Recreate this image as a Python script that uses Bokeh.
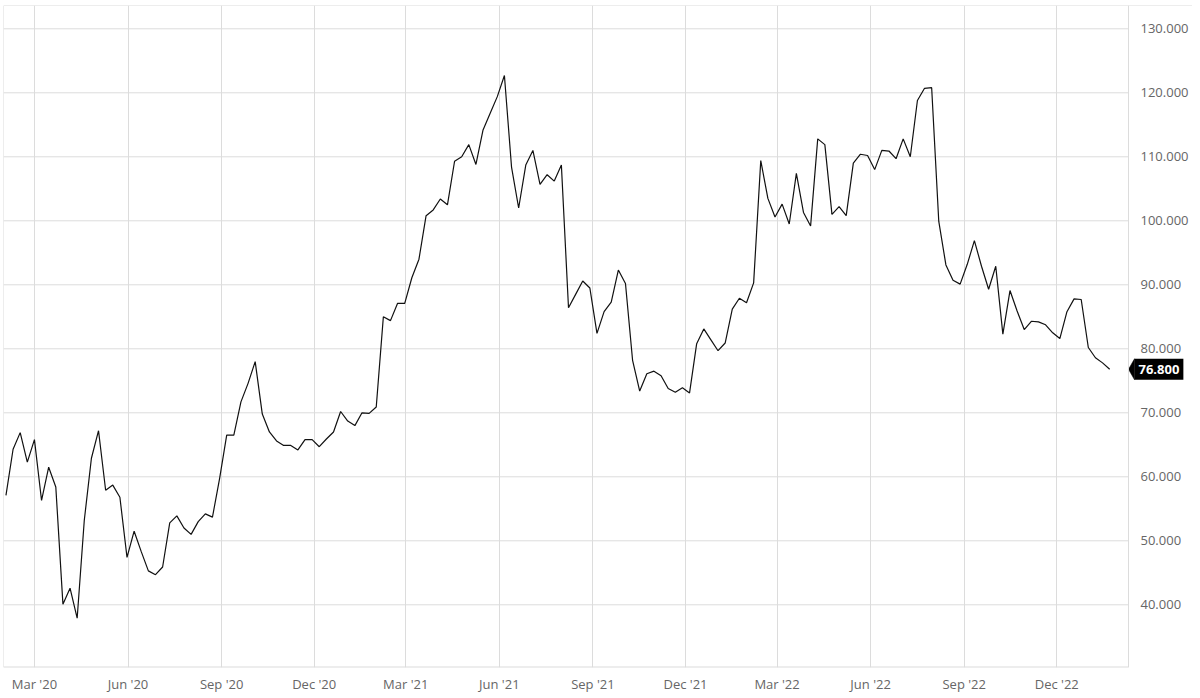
import pandas as pd
from bokeh.plotting import figure
from bokeh.models import (Range1d, FixedTicker, DatetimeTickFormatter, Label, Span,
                          ColumnDataSource)
from bokeh.core.properties import value
from bokeh.embed import file_html
from bokeh.resources import INLINE

# ---- data (weekly closes) ----
start_date = "2020-02-02"
values = [
    57.1, 64.3, 66.9, 62.3, 65.8, 56.3, 61.5, 58.4, 40.1, 42.6,
    37.9, 53.2, 62.9, 67.2, 57.9, 58.7, 56.8, 47.4, 51.5, 48.3,
    45.3, 44.7, 45.9, 52.8, 53.9, 52.0, 51.0, 53.0, 54.2, 53.7,
    59.7, 66.5, 66.5, 71.7, 74.6, 78.0, 69.8, 67.0, 65.6, 64.9,
    64.9, 64.2, 65.8, 65.8, 64.7, 65.9, 67.0, 70.2, 68.7, 68.0,
    70.0, 69.9, 70.9, 85.0, 84.4, 87.1, 87.1, 91.1, 94.0, 100.8,
    101.7, 103.4, 102.5, 109.3, 110.0, 111.9, 108.8, 114.2, 116.8, 119.4,
    122.7, 108.4, 102.0, 108.7, 111.0, 105.7, 107.2, 106.2, 108.7, 86.4,
    88.5, 90.6, 89.5, 82.4, 85.8, 87.3, 92.3, 90.2, 78.2, 73.4,
    76.1, 76.5, 75.8, 73.8, 73.2, 73.9, 73.1, 80.8, 83.1, 81.4,
    79.7, 80.9, 86.2, 87.9, 87.2, 90.3, 109.4, 103.5, 100.6, 102.6,
    99.5, 107.4, 101.3, 99.2, 112.8, 111.9, 101.0, 102.2, 100.8, 109.0,
    110.4, 110.2, 108.0, 111.0, 110.9, 109.7, 112.8, 110.0, 118.8, 120.7,
    120.8, 99.9, 93.1, 90.7, 90.1, 93.2, 96.9, 92.9, 89.3, 92.9,
    82.3, 89.1, 85.9, 83.0, 84.3, 84.2, 83.75, 82.5, 81.6, 85.8,
    87.8, 87.7, 80.2, 78.6, 77.8, 76.8,
]
x_tick_dates = ["2020-03-01", "2020-06-01", "2020-09-01", "2020-12-01",
                "2021-03-01", "2021-06-01", "2021-09-01", "2021-12-01",
                "2022-03-01", "2022-06-01", "2022-09-01", "2022-12-01"]
y_ticks = [40, 50, 60, 70, 80, 90, 100, 110, 120, 130]
y_tick_labels = [f"{t:.3f}" for t in y_ticks]

dates = pd.date_range(start_date, periods=len(values), freq="7D")
src = ColumnDataSource(dict(date=dates, value=values))

# ---- geometry ----
W, H = 1192, 696
LEFT, TOP, BOTTOM = 3, 5, 667          # frame edges in page px
DATA_RIGHT = 1128                      # right edge of the chart area (px)
frame_w = W - LEFT
frame_h = BOTTOM - TOP

x_start = pd.Timestamp("2020-01-30 14:00")
x_end = pd.Timestamp("2023-02-09 12:00")   # value at DATA_RIGHT
y_lo, y_hi = 30.2, 133.64

start_ms = x_start.value / 1e6
end_ms = x_end.value / 1e6
px_x = (end_ms - start_ms) / (DATA_RIGHT - LEFT)
px_y = (y_hi - y_lo) / frame_h
range_end = start_ms + frame_w * px_x

p = figure(width=W, height=H, x_axis_type="datetime", y_axis_location=None,
           output_backend="svg", toolbar_location=None,
           x_range=Range1d(start_ms, range_end), y_range=Range1d(y_lo, y_hi),
           min_border_left=LEFT, min_border_top=TOP, min_border_right=0,
           min_border_bottom=H - BOTTOM)
p.outline_line_color = None
p.background_fill_color = "white"
p.border_fill_color = "white"

GRID = "#dcdcdc"

# vertical grid at month ticks
tick_ms = [pd.Timestamp(d).value / 1e6 for d in x_tick_dates]
p.xaxis.ticker = FixedTicker(ticks=tick_ms)
p.xgrid.ticker = FixedTicker(ticks=tick_ms)
p.xgrid.grid_line_color = GRID
p.ygrid.grid_line_color = None
fmt = "%b '%y"
p.xaxis.formatter = DatetimeTickFormatter(days=fmt, months=fmt, years=fmt, hours=fmt,
                                          minutes=fmt, seconds=fmt)
ax = p.xaxis[0]
ax.axis_line_color = None
ax.major_tick_line_color = None
ax.minor_tick_line_color = None
ax.major_tick_in = 0
ax.major_tick_out = 0
ax.major_label_text_font = "Open Sans"
ax.major_label_text_font_size = "13px"
ax.major_label_text_color = "#666666"
ax.major_label_standoff = 7

# horizontal grid stops at the right edge of the chart area
p.segment(x0=[start_ms] * len(y_ticks), x1=[end_ms] * len(y_ticks),
          y0=y_ticks, y1=y_ticks, line_color=GRID, line_width=1)

# borders
p.add_layout(Span(location=y_hi, dimension="width", line_color=GRID, line_width=1))
p.add_layout(Span(location=start_ms, dimension="height", line_color=GRID, line_width=1))
p.add_layout(Span(location=end_ms, dimension="height", line_color=GRID, line_width=1))
p.segment(x0=[start_ms], x1=[end_ms], y0=[y_lo], y1=[y_lo], line_color=GRID, line_width=2)

# right-hand value labels
p.text(x=[end_ms] * len(y_ticks), y=y_ticks, text=y_tick_labels, x_offset=12,
       text_align="left", text_baseline="middle", text_font=value("Open Sans"),
       text_font_size="13px", text_color="#666666")

# price line
p.line("date", "value", source=src, line_color="#111111", line_width=1.2)

# last value marker (arrow + box)
last_val = values[-1]
p.patch(x=[end_ms, end_ms + 6 * px_x, end_ms + 6 * px_x],
        y=[last_val, last_val + 10.5 * px_y, last_val - 10.5 * px_y],
        fill_color="black", line_color="black", line_width=0.5)
lbl = Label(x=end_ms, y=last_val, x_offset=6, text=f"{last_val:.3f}",
            text_align="left", text_baseline="middle", text_color="white",
            text_font="Open Sans", text_font_style="bold", text_font_size="13px",
            background_fill_color="black", background_fill_alpha=1, padding=(4, 6))
p.add_layout(lbl)

open("out.html", "w").write(file_html(p, INLINE))
